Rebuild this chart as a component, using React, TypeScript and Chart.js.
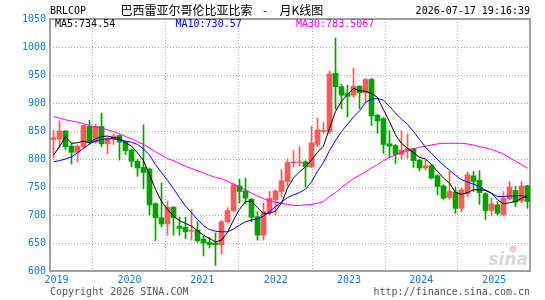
import React, { useEffect, useRef } from 'react';
import { Chart, registerables } from 'chart.js';

Chart.register(...registerables);

// ---- data (monthly candles, Dec 2018 .. Jul 2025) ----
const months = [
  '2018-12',
  '2019-01', '2019-02', '2019-03', '2019-04', '2019-05', '2019-06', '2019-07', '2019-08', '2019-09', '2019-10', '2019-11', '2019-12',
  '2020-01', '2020-02', '2020-03', '2020-04', '2020-05', '2020-06', '2020-07', '2020-08', '2020-09', '2020-10', '2020-11', '2020-12',
  '2021-01', '2021-02', '2021-03', '2021-04', '2021-05', '2021-06', '2021-07', '2021-08', '2021-09', '2021-10', '2021-11', '2021-12',
  '2022-01', '2022-02', '2022-03', '2022-04', '2022-05', '2022-06', '2022-07', '2022-08', '2022-09', '2022-10', '2022-11', '2022-12',
  '2023-01', '2023-02', '2023-03', '2023-04', '2023-05', '2023-06', '2023-07', '2023-08', '2023-09', '2023-10', '2023-11', '2023-12',
  '2024-01', '2024-02', '2024-03', '2024-04', '2024-05', '2024-06', '2024-07', '2024-08', '2024-09', '2024-10', '2024-11', '2024-12',
  '2025-01', '2025-02', '2025-03', '2025-04', '2025-05', '2025-06', '2025-07',
];

const openP = [
  835, 836, 850, 823, 812, 822, 858, 830, 858, 827,
  836, 842, 830, 816, 796, 785, 782, 720, 695, 684,
  714, 680, 678, 671, 673, 657, 651, 650, 647, 688,
  708, 752, 743, 728, 697, 664, 706, 727, 742, 760,
  793, 793, 795, 786, 826, 849, 849, 953, 929, 917,
  914, 930, 918, 942, 878, 872, 827, 824, 808, 815,
  818, 798, 784, 788, 770, 752, 731, 741, 712, 738,
  770, 762, 738, 708, 718, 700, 729, 744, 725, 752,
];
const highP = [
  851, 868, 851, 829, 825, 861, 869, 862, 882, 839,
  845, 843, 832, 818, 799, 861, 784, 722, 757, 725,
  715, 696, 696, 710, 688, 662, 660, 668, 690, 713,
  757, 764, 766, 730, 706, 721, 742, 745, 781, 800,
  815, 822, 797, 858, 873, 866, 957, 1016, 933, 932,
  962, 931, 944, 944, 880, 874, 851, 826, 851, 845,
  819, 800, 798, 790, 772, 754, 778, 750, 748, 777,
  778, 779, 740, 730, 724, 742, 760, 751, 760, 753,
];
const lowP = [
  802, 820, 817, 791, 795, 819, 826, 828, 822, 809,
  826, 798, 808, 786, 769, 747, 700, 654, 679, 664,
  664, 664, 658, 655, 651, 627, 641, 610, 630, 686,
  706, 721, 720, 688, 655, 655, 700, 700, 733, 752,
  786, 788, 750, 784, 822, 846, 845, 889, 890, 875,
  910, 890, 900, 860, 846, 810, 803, 792, 800, 801,
  785, 779, 780, 764, 736, 728, 728, 703, 706, 733,
  742, 719, 692, 698, 700, 699, 727, 715, 722, 712,
];
const closeP = [
  838, 850, 822, 812, 823, 860, 830, 858, 827, 837,
  841, 830, 815, 796, 784, 776, 718, 695, 684, 714,
  695, 676, 670, 673, 654, 650, 647, 647, 688, 708,
  754, 742, 730, 696, 664, 706, 730, 743, 761, 794,
  795, 795, 786, 829, 852, 851, 952, 929, 914, 912,
  930, 918, 942, 877, 868, 826, 823, 808, 816, 819,
  797, 784, 788, 766, 751, 730, 742, 712, 745, 772,
  760, 740, 708, 720, 703, 730, 750, 723, 752, 724,
];

const ma5 = [
  807, 822, 840, 828, 829, 832, 829, 836, 840, 841,
  838, 837, 829, 823, 811, 797, 772, 746, 724, 710,
  698, 690, 685, 680, 672, 664, 658, 652, 655, 669,
  691, 710, 724, 725, 713, 703, 703, 707, 721, 748,
  766, 777, 786, 798, 812, 823, 855, 885, 903, 915,
  926, 922, 921, 917, 910, 888, 867, 843, 828, 819,
  811, 803, 800, 790, 778, 766, 757, 740, 737, 740,
  745, 745, 744, 739, 727, 720, 722, 724, 730, 734.54,
];
const ma10 = [
  795, 797, 800, 804, 811, 819, 827, 832, 835, 836,
  836, 834, 832, 830, 826, 818, 807, 790, 776, 762,
  747, 731, 716, 704, 692, 681, 674, 671, 670, 670,
  675, 682, 688, 691, 693, 698, 706, 715, 723, 731,
  736, 740, 746, 759, 778, 794, 815, 833, 849, 862,
  875, 886, 901, 907, 908, 905, 894, 882, 871, 862,
  849, 835, 821, 810, 799, 789, 780, 771, 763, 759,
  755, 751, 744, 739, 733, 733, 734, 734, 735, 730.57,
];
const ma30 = [
  876, 873, 870, 868, 866, 863, 860, 857, 855, 852,
  849, 845, 840, 836, 831, 826, 820, 813, 807, 801,
  797, 792, 787, 783, 779, 775, 771, 767, 765, 760,
  755, 750, 745, 739, 734, 729, 725, 723, 721, 719,
  717, 717, 718, 719, 721, 724, 733, 740, 749, 757,
  765, 771, 777, 784, 790, 797, 803, 807, 812, 815,
  818, 821, 823, 825, 827, 828, 828, 828, 828, 827,
  825, 822, 820, 817, 813, 809, 802, 796, 790, 783.5067,
];

const yearLabels = ['2019', '2020', '2021', '2022', '2023', '2024', '2025'];
// where the year lines sit, in candle-index units
const yearTickAt = [0.5, 12.66, 24.78, 37.03, 49.25, 61.28, 73.45];

const UP = '#ff5a5a';
const DOWN = '#00a000';
const AXIS_BLUE = '#1479cc';
const MONO = '"DejaVu Sans Mono", monospace';

const framePlugin = {
  id: 'frameAndText',
  beforeDatasetsDraw(chart: any) {
    const { ctx, chartArea: a } = chart;
    ctx.save();
    // watermark
    ctx.font = 'italic bold 17px "DejaVu Sans", sans-serif';
    ctx.fillStyle = 'rgba(175,175,175,0.5)';
    ctx.textAlign = 'right';
    ctx.textBaseline = 'alphabetic';
    ctx.fillText('sina', a.right - 2, a.bottom - 6);
    ctx.fillStyle = 'rgba(230,120,120,0.4)';
    ctx.beginPath();
    ctx.arc(a.right - 17, a.bottom - 22, 3.5, 0, Math.PI * 2);
    ctx.fill();
    // frame
    ctx.strokeStyle = '#a0a0a0';
    ctx.lineWidth = 2;
    ctx.strokeRect(a.left, a.top, a.right - a.left, a.bottom - a.top);
    ctx.restore();
  },
  afterDraw(chart: any) {
    const { ctx, chartArea: a } = chart;
    ctx.save();
    ctx.textBaseline = 'middle';
    ctx.font = '10px ' + MONO;
    ctx.fillStyle = '#000';
    ctx.textAlign = 'left';
    ctx.fillText('BRLCOP', 50, 11.5);
    ctx.textAlign = 'right';
    ctx.fillText('2026-07-17 19:16:39', a.right, 11.5);

    ctx.textAlign = 'left';
    ctx.font = '12px "Noto Sans CJK SC", sans-serif';
    ctx.fillText('巴西雷亚尔哥伦比亚比索', 120.5, 10.5);
    ctx.fillText('-', 263, 10.5);
    ctx.fillText('月K线图', 279.5, 10.5);

    ctx.font = '10px ' + MONO;
    ctx.fillStyle = '#000000';
    ctx.fillText('MA5:' + ma5[ma5.length - 1].toFixed(2), 55, 24);
    ctx.fillStyle = '#0000ff';
    ctx.fillText('MA10:' + ma10[ma10.length - 1].toFixed(2), 175.5, 24);
    ctx.fillStyle = '#ff00ff';
    ctx.fillText('MA30:' + ma30[ma30.length - 1].toFixed(4), 296, 24);

    ctx.fillStyle = '#555555';
    ctx.fillText('Copyright 2026 SINA.COM', 50, 292.5);
    ctx.textAlign = 'right';
    ctx.fillText('http://finance.sina.com.cn', a.right, 292.5);
    ctx.restore();
  },
};

export default function App() {
  const ref = useRef<HTMLCanvasElement | null>(null);

  useEffect(() => {
    document.body.style.margin = '0';
    const canvas = ref.current;
    if (!canvas) return;
    const colors = closeP.map((c, i) => (c >= openP[i] ? UP : DOWN));
    const lineDs = (label: string, vals: number[], color: string) => ({
      type: 'line' as const,
      label,
      data: vals.map((v, i) => ({ x: i, y: v })),
      borderColor: color,
      backgroundColor: color,
      borderWidth: 1,
      pointRadius: 0,
      tension: 0,
      order: 0,
    });
    const chart = new Chart(canvas, {
      type: 'bar',
      data: {
        labels: months,
        datasets: [
          lineDs('MA5', ma5, '#000000'),
          lineDs('MA10', ma10, '#0000ff'),
          lineDs('MA30', ma30, '#ff00ff'),
          {
            type: 'bar',
            label: 'body',
            data: months.map((_, i) => ({ x: i, y: [openP[i], closeP[i]] })) as any,
            backgroundColor: colors,
            barThickness: 5,
            minBarLength: 1,
            grouped: false,
            order: 1,
          } as any,
          {
            type: 'bar',
            label: 'wick',
            data: months.map((_, i) => ({ x: i, y: [lowP[i], highP[i]] })) as any,
            backgroundColor: colors,
            barThickness: 1,
            grouped: false,
            order: 2,
          } as any,
        ],
      },
      options: {
        responsive: false,
        animation: false,
        devicePixelRatio: 1,
        layout: { padding: { top: 19, right: 15, left: 0, bottom: 0 } },
        plugins: { legend: { display: false }, tooltip: { enabled: false }, title: { display: false } },
        scales: {
          x: {
            type: 'linear',
            min: -0.5833,
            max: 79.4167,
            offset: false,
            grid: { color: '#b0b0b0', lineWidth: 1, drawTicks: false },
            border: { display: false, dash: [1, 2] },
            afterBuildTicks: (s: any) => {
              s.ticks = yearTickAt.map((v) => ({ value: v }));
            },
            afterFit: (s: any) => {
              s.height = 29;
            },
            ticks: {
              autoSkip: false,
              maxRotation: 0,
              color: AXIS_BLUE,
              padding: 3,
              font: { family: MONO, size: 10 },
              callback: (_v: any, idx: number) => yearLabels[idx],
            },
          },
          y: {
            type: 'linear',
            min: 600,
            max: 1050,
            grid: { color: '#b0b0b0', lineWidth: 1, drawTicks: false },
            border: { display: false, dash: [1, 2] },
            afterFit: (s: any) => {
              s.width = 50;
            },
            ticks: {
              stepSize: 50,
              color: AXIS_BLUE,
              padding: 4,
              font: { family: MONO, size: 10 },
              callback: (v: any) => String(v),
            },
          },
        },
      } as any,
      plugins: [framePlugin],
    });
    return () => chart.destroy();
  }, []);

  return (
    <div style={{ width: 545, height: 300 }}>
      <canvas ref={ref} width={545} height={300} style={{ display: 'block', width: 545, height: 300 }} />
    </div>
  );
}
